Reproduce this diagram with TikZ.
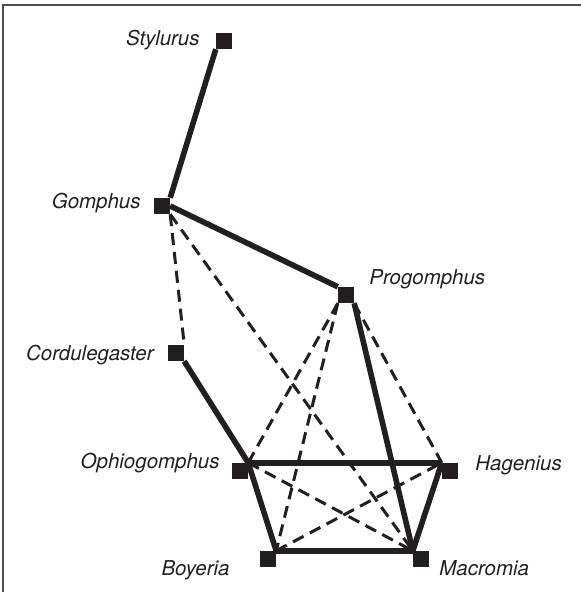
\documentclass[tikz,border=0pt]{standalone}
\usepackage{fontspec}
\setsansfont{TeX Gyre Heros}
\usepackage{tikz}
\usetikzlibrary{positioning}

\definecolor{ink}{HTML}{231F20}

\begin{document}
\begin{tikzpicture}[
  x=1pt, y=-1pt,
  taxon/.style={fill=ink, minimum size=16pt, inner sep=0pt},
  taxname/.style={font=\fontsize{20.5}{24}\selectfont\sffamily\itshape,
                  color=ink, inner sep=0pt},
  link/.style={draw=ink, line width=5.6pt},
  weak/.style={draw=ink, line width=3pt, dash pattern=on 12pt off 7pt}
]
\useasboundingbox (0,0) rectangle (581,592);

%% ── Cadre ─────────────────────────────────────────────────────────
\draw[ink!80, line width=1.3pt] (3,600) -- (3,5) -- (600,5);

%% ── Noeuds ────────────────────────────────────────────────────────
\node[taxon] (sty) at (224,41)  {};
\node[taxon] (gom) at (162,206) {};
\node[taxon] (pro) at (346,295) {};
\node[taxon] (cor) at (176,353) {};
\node[taxon] (oph) at (240,471) {};
\node[taxon] (hag) at (450,471) {};
\node[taxon] (boy) at (268,559) {};
\node[taxon] (mac) at (421,559) {};

%% ── Noms ──────────────────────────────────────────────────────────
\node[taxname, left=16pt of sty, yshift=1pt]   (styL) {Stylurus};
\node[taxname, left=13pt of gom, yshift=3pt]   (gomL) {Gomphus};
\node[taxname, right=15pt of pro, yshift=16pt] (proL) {Progomphus};
\node[taxname, left=14pt of cor, yshift=-2pt]  (corL) {Cordulegaster};
\node[taxname, left=12pt of oph, yshift=8pt]   (ophL) {Ophiogomphus};
\node[taxname, right=17pt of hag, yshift=6pt]  (hagL) {Hagenius};
\node[taxname, left=30pt of boy, yshift=-11pt] (boyL) {Boyeria};
\node[taxname, right=10pt of mac, yshift=-9pt] (macL) {Macromia};

%% ── Liens en tirets ───────────────────────────────────────────────
\draw[weak] (gom.south east) -- (cor.north east);
\draw[weak] (gom.south east) -- (mac.north west);
\draw[weak] (oph.north east) -- (mac.north west);
\draw[weak] (pro.south west) -- (oph.north east);
\draw[weak] (pro.south west) -- (boy.north east);
\draw[weak] (pro.south east) -- (hag.north west);
\draw[weak] (boy.north east) -- (hag.north west);

%% ── Liens pleins ──────────────────────────────────────────────────
\draw[link] (sty.south west) -- (gom.north east);
\draw[link] (gom.east)       -- (pro.north west);
\draw[link] (cor.south east) -- (oph.north east);
\draw[link] (oph.north east) -- (hag.north west);
\draw[link] (oph.north east) -- (boy.north east);
\draw[link] (pro.south east) -- (mac.north west);
\draw[link] (hag.north west) -- (mac.north west);
\draw[link] (boy.north east) -- (mac.north west);

\end{tikzpicture}
\end{document}
